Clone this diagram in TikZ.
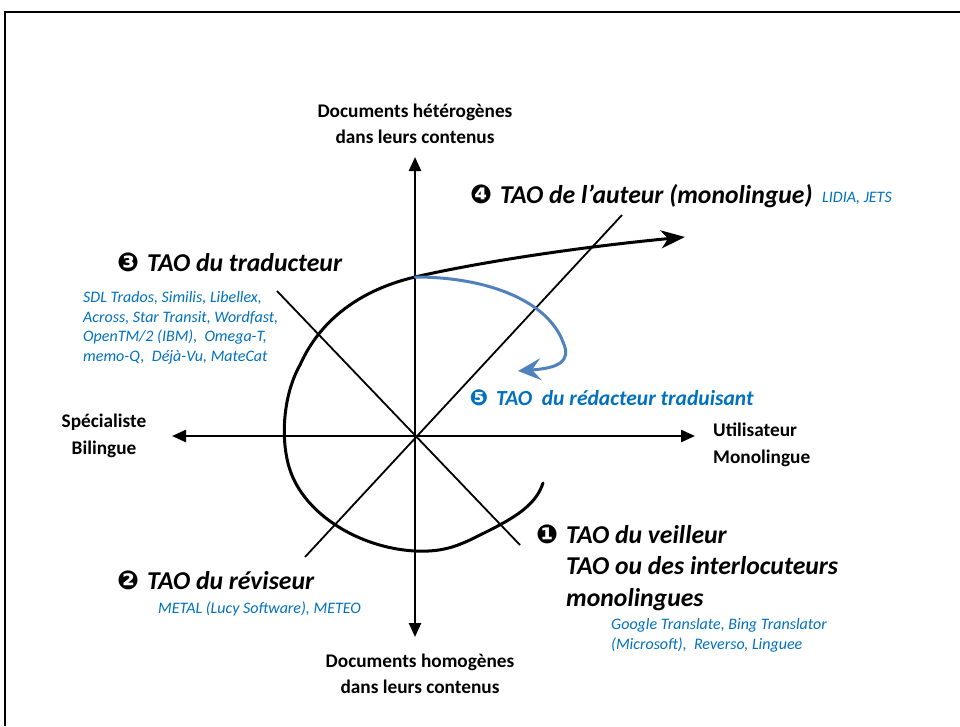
\documentclass[tikz,border=0pt]{standalone}
\usepackage{fontspec}
\setmainfont{Carlito}
\newfontfamily\dingfont{DejaVu Sans}
\usepackage{xcolor}
\usetikzlibrary{arrows.meta}
\definecolor{toolblue}{RGB}{0,112,192}
\definecolor{arrowblue}{RGB}{79,129,189}
\newcommand{\numb}[2][26]{\llap{{\dingfont\fontsize{#1}{#1}\selectfont #2}\hspace{8pt}}}

\begin{document}
\begin{tikzpicture}[x=1pt, y=-1pt,
  axis/.style={line width=2.4pt, {Triangle[length=14pt,width=12pt]}-{Triangle[length=14pt,width=12pt]}},
  diag/.style={line width=1.8pt},
  route/.style={line width=3pt, line cap=round, -{Stealth[length=24pt,width=18pt,inset=7pt]}},
  bluearc/.style={line width=3pt, color=arrowblue, line cap=round, -{Stealth[length=23pt,width=22pt,inset=9pt]}},
  axlbl/.style={font=\bfseries\fontsize{19.3}{26.5}\selectfont, align=center, inner sep=0pt},
  tao/.style={font=\bfseries\itshape\fontsize{25.7}{31.5}\selectfont, align=left, inner sep=0pt, anchor=base west},
  tools/.style={font=\itshape\fontsize{16}{19.5}\selectfont, text=toolblue, align=left, inner sep=0pt, anchor=base west}]
\useasboundingbox (0,0) rectangle (960,726);
\draw[line width=2pt] (5,726) -- (5,12) -- (960,12);

\coordinate (O)  at (415,436);
\coordinate (N)  at (415,157);
\coordinate (S)  at (415,637);
\coordinate (W)  at (172,436);
\coordinate (E)  at (695,436);
\coordinate (NW) at (277,291);
\coordinate (SE) at (520,545);
\coordinate (SW) at (305,557);
\coordinate (NE) at (622,215);
\coordinate (tail) at (543,483);
\coordinate (top)  at (415,277);
\coordinate (tip)  at (685,237);
\coordinate (back) at (518,371);

\draw[axis] (N) -- (S);
\draw[axis] (W) -- (E);
\draw[diag] (NW) -- (SE);
\draw[diag] (SW) -- (NE);

\draw[route] (tail) .. controls (536,505) and (515,518) .. (480,535)
  .. controls (455,548) and (440,552) .. (415,551)
  .. controls (360,548) and (305,515) .. (290,470)
  .. controls (280,440) and (283,395) .. (300,365)
  .. controls (320,320) and (360,290) .. (top)
  .. controls (480,262) and (580,247) .. (tip);
\draw[bluearc] (top) .. controls (490,277) and (548,302) .. (563,342)
  .. controls (572,362) and (558,368) .. (back);

\node[axlbl] (het) at (415,124) {Documents hétérogènes\\dans leurs contenus};
\node[axlbl] (hom) at (420,674) {Documents homogènes\\dans leurs contenus};
\node[axlbl] (spec) at (104,436) {Spécialiste\\Bilingue};
\node[axlbl, align=left, anchor=west] (util) at (713,445) {Utilisateur\\Monolingue};

\node[tao] (t4) at (500,203) {\numb{❹}TAO de l’auteur (monolingue)};
\node[tools] (l4) at (822,202) {LIDIA, JETS};
\node[tao] (t3) at (147,271) {\numb{❸}TAO du traducteur};
\node[tools] (l3) at (83,361) {SDL Trados, Similis, Libellex,\\Across, Star Transit, Wordfast,\\OpenTM/2 (IBM),~ Omega-T,\\memo-Q,~ Déjà-Vu, MateCat};
\node[tao, text=toolblue, font=\bfseries\itshape\fontsize{21.5}{26}\selectfont] (t5) at (496,405) {\numb[22]{❺}TAO~ du rédacteur traduisant};
\node[tao] (t1) at (566,606) {\numb{❶}TAO du veilleur\\TAO ou des interlocuteurs\\monolingues};
\node[tools] (l1) at (611,649) {Google Translate, Bing Translator\\(Microsoft),~ Reverso, Linguee};
\node[tao] (t2) at (147,589) {\numb{❷}TAO du réviseur};
\node[tools] (l2) at (158,613) {METAL (Lucy Software), METEO};
\end{tikzpicture}
\end{document}
